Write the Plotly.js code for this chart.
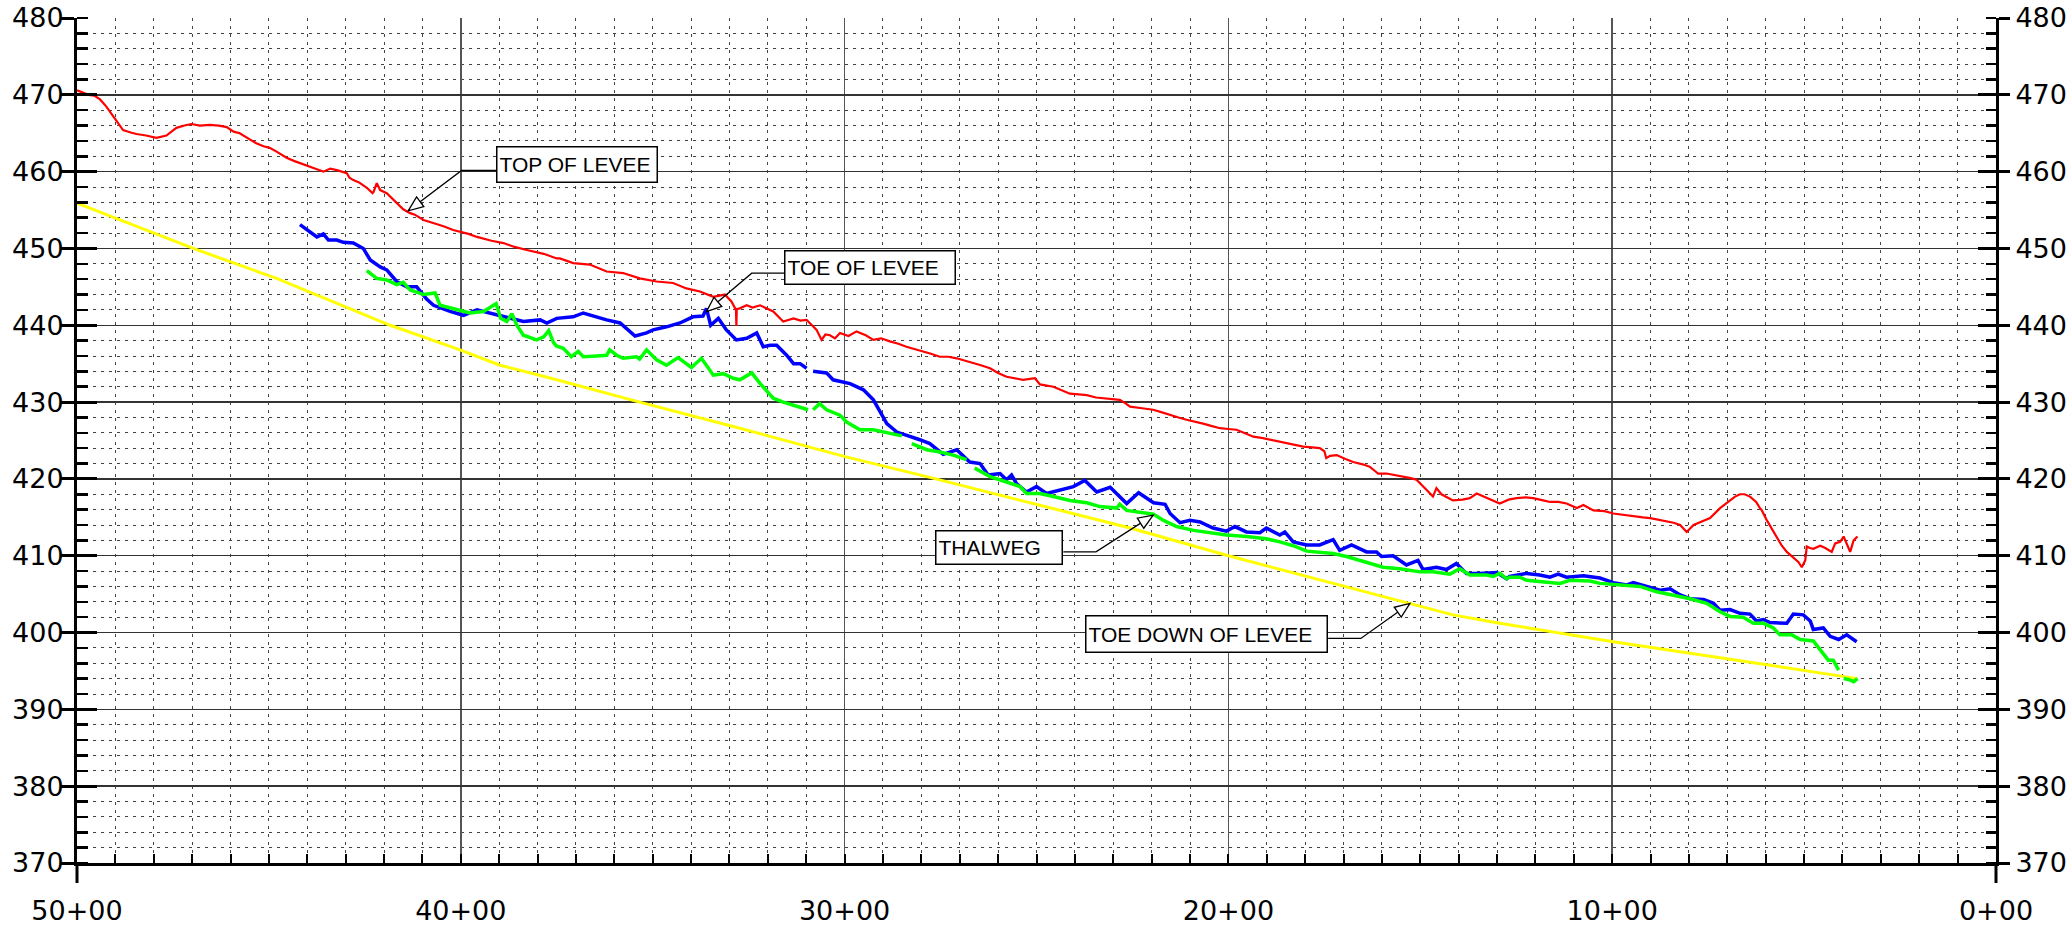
<!DOCTYPE html>
<html><head><meta charset="utf-8">
<script src="https://cdn.plot.ly/plotly-3.0.1.min.js"></script>
<style>html,body{margin:0;padding:0;background:#fff;overflow:hidden}#chart{width:2070px;height:934px}</style>
</head><body><div id="chart"></div>
<script>
// ---------- DATA ----------
const topStation = [50.0,49.85,49.7,49.55,49.4,49.24,48.97,48.8,48.6,48.45,48.2,47.93,47.67,47.41,47.2,47.02,46.8,46.54,46.3,46.1,45.92,45.76,45.5,45.33,45.14,44.98,44.8,44.62,44.54,44.35,44.2,44.1,43.9,43.75,43.58,43.4,43.23,43.1,42.97,42.9,42.8,42.65,42.45,42.3,42.27,42.19,42.1,41.93,41.8,41.67,41.5,41.32,41.2,40.97,40.7,40.45,40.2,40.02,39.8,39.58,39.2,38.89,38.6,38.28,37.84,37.5,37.42,37.07,36.64,36.2,35.77,35.34,34.9,34.47,34.12,33.77,33.42,33.12,32.95,32.83,32.82,32.81,32.73,32.55,32.4,32.2,32.0,31.86,31.6,31.33,31.15,30.99,30.85,30.73,30.6,30.5,30.38,30.25,30.12,29.9,29.69,29.45,29.25,29.05,28.82,28.6,28.39,28.15,27.95,27.75,27.52,27.3,27.08,26.85,26.65,26.45,26.21,26.0,25.78,25.55,25.35,25.04,24.91,24.56,24.35,24.13,23.9,23.69,23.45,23.26,23.05,22.83,22.7,22.56,22.25,21.96,21.75,21.52,21.3,21.09,20.9,20.66,20.45,20.22,20.0,19.79,19.55,19.35,19.1,18.92,18.7,18.49,18.25,18.05,17.82,17.62,17.5,17.45,17.35,17.18,16.95,16.75,16.5,16.32,16.15,16.1,15.88,15.65,15.45,15.25,15.1,14.95,14.84,14.67,14.58,14.45,14.32,14.15,13.9,13.71,13.53,13.3,13.1,12.93,12.7,12.49,12.25,12.06,11.8,11.62,11.4,11.19,10.92,10.75,10.49,10.2,9.97,9.7,9.45,9.2,9.01,8.8,8.58,8.4,8.23,8.06,7.88,7.65,7.45,7.19,6.93,6.8,6.67,6.55,6.41,6.25,6.15,6.1,5.97,5.85,5.71,5.58,5.45,5.28,5.15,5.06,4.97,4.93,4.85,4.76,4.58,4.45,4.28,4.19,4.06,3.97,3.88,3.8,3.71,3.61];
const topElev = [470.6,470.3,470.0,469.9,469.4,468.5,466.5,465.4,465.1,464.9,464.7,464.4,464.7,465.7,466.0,466.2,466.0,466.1,466.0,465.8,465.2,465.0,464.2,463.7,463.3,463.1,462.6,462.0,461.8,461.4,461.1,460.9,460.6,460.3,460.0,460.4,460.2,460.0,459.8,459.2,458.9,458.6,457.9,457.2,457.4,458.5,457.6,457.2,456.6,455.9,455.1,454.6,454.4,453.7,453.3,452.9,452.4,452.2,451.9,451.5,451.0,450.7,450.2,449.8,449.3,448.7,448.7,448.1,447.9,447.0,446.8,446.1,445.7,445.5,444.8,444.4,443.7,444.0,443.1,442.0,439.9,442.1,442.2,442.6,442.3,442.6,442.1,441.8,440.5,440.9,440.6,440.7,440.0,439.4,438.1,438.8,438.7,438.3,439.0,438.6,439.2,438.7,438.1,438.3,437.9,437.6,437.2,436.9,436.6,436.3,435.9,435.9,435.7,435.4,435.1,434.8,434.4,433.8,433.3,433.1,432.9,433.1,432.3,432.0,431.6,431.1,431.0,430.9,430.6,430.5,430.4,430.3,429.9,429.4,429.2,429.0,428.7,428.3,428.0,427.7,427.5,427.2,426.9,426.6,426.5,426.4,425.9,425.5,425.3,425.1,424.9,424.6,424.4,424.2,424.1,424.0,423.6,422.7,423.0,423.1,422.6,422.2,421.9,421.6,420.9,420.7,420.7,420.5,420.3,420.1,419.9,419.2,418.6,417.7,418.8,418.0,417.7,417.2,417.3,417.5,418.1,417.6,417.2,416.8,417.3,417.5,417.6,417.5,417.2,417.0,417.0,416.8,416.2,416.6,415.9,415.8,415.5,415.3,415.1,415.0,414.9,414.7,414.4,414.3,414.0,413.1,414.0,414.5,414.9,416.2,417.2,417.7,418.0,418.0,417.7,417.0,416.2,415.9,414.6,413.6,412.3,411.3,410.5,409.7,409.2,408.5,409.4,411.2,411.0,410.9,411.3,411.0,410.5,411.6,411.8,412.5,411.5,410.5,412.0,412.5];

const toeStation = [44.19,43.93,43.75,43.58,43.45,43.23,43.06,42.8,42.54,42.36,42.1,41.93,41.67,41.41,41.15,40.89,40.71,40.28,39.93,39.58,39.24,38.72,38.37,37.93,37.76,37.5,37.07,36.81,36.55,36.2,35.85,35.46,35.16,34.99,34.64,34.29,33.95,33.69,33.6,33.49,33.29,33.08,32.82,32.55,32.29,32.12,31.94,31.77,31.51,31.33,31.16,30.99,null,30.82,30.47,30.3,29.86,29.51,29.25,29.08,28.9,28.64,28.39,28.04,27.78,27.43,27.08,26.74,26.47,26.26,25.95,25.78,25.65,25.52,25.26,25.0,24.74,24.3,24.04,23.74,23.43,23.08,22.65,22.34,21.95,21.65,21.52,21.26,21.0,20.74,20.4,20.05,19.83,19.53,19.18,19.01,18.66,18.53,18.31,17.96,17.62,17.27,17.1,16.79,16.4,16.14,16.01,15.71,15.36,15.06,14.93,14.58,14.32,14.06,13.8,13.45,13.01,12.75,12.67,12.23,11.89,11.62,11.41,11.19,10.75,10.32,10.15,9.97,9.62,9.45,9.1,8.75,8.49,8.23,7.97,7.62,7.36,7.19,6.93,6.67,6.41,6.24,6.06,5.89,5.45,5.28,5.02,4.84,4.76,4.5,4.32,4.1,3.89,3.63];
const toeElev = [453.1,452.2,451.5,451.9,451.1,451.1,450.8,450.7,450.0,448.5,447.6,447.2,445.7,445.0,445.0,443.4,442.6,441.8,441.3,442.0,441.6,440.9,440.5,440.7,440.3,440.9,441.1,441.6,441.2,440.7,440.3,438.6,439.0,439.4,439.8,440.3,441.1,441.2,442.2,440.0,440.9,439.4,438.1,438.3,439.0,437.2,437.4,437.4,436.1,435.0,435.0,434.4,null,434.0,433.8,432.9,432.4,431.6,430.3,428.8,427.2,426.1,425.7,425.1,424.6,423.2,423.8,422.2,422.0,420.5,420.7,419.9,420.5,419.4,418.3,419.0,418.1,418.6,419.0,419.8,418.3,418.9,416.8,418.2,416.9,416.7,415.5,414.3,414.6,414.4,413.6,413.2,413.8,413.1,413.0,413.6,412.7,413.1,411.8,411.4,411.4,412.1,410.7,411.4,410.5,410.5,409.9,410.0,408.8,409.4,408.2,408.5,408.2,409.0,407.7,407.7,407.8,407.0,407.3,407.7,407.5,407.2,407.6,407.2,407.4,407.1,406.8,406.5,406.2,406.5,406.0,405.5,405.7,404.9,404.4,404.3,403.8,402.9,403.0,402.5,402.4,401.5,401.7,401.3,401.2,402.4,402.3,401.5,400.4,400.6,399.5,399.1,399.7,398.8];

const thalwegStation = [42.45,42.19,41.93,41.67,41.5,41.32,40.97,40.67,40.54,40.19,39.76,39.41,39.08,38.96,38.8,38.67,38.54,38.37,38.02,37.84,37.71,37.58,37.51,37.33,37.12,36.94,36.81,36.46,36.2,36.12,35.94,35.77,35.42,35.34,35.16,34.9,34.64,34.34,33.99,33.73,33.42,33.16,32.9,32.73,32.42,32.2,31.86,31.6,31.33,30.95,null,30.82,30.65,30.47,30.12,29.95,29.6,29.25,28.82,28.51,null,28.25,27.86,27.52,27.17,26.82,null,26.61,26.21,25.78,25.43,25.26,24.91,24.56,24.13,23.69,23.35,22.91,22.83,22.65,22.3,21.95,21.69,21.35,20.91,20.48,20.05,19.53,19.01,18.66,18.31,17.96,17.62,17.27,16.92,16.58,16.32,15.97,15.54,15.01,14.67,14.23,13.97,13.71,13.27,13.1,12.93,12.75,12.67,12.41,12.23,11.89,11.36,11.1,10.58,10.32,9.8,9.28,8.84,8.41,7.97,7.54,7.19,6.93,6.59,6.32,6.06,5.8,5.63,5.32,5.1,4.76,4.54,4.37,4.24,4.1,null,3.97,3.84,3.71,3.61];
const thalwegElev = [447.1,446.1,445.9,445.3,445.6,444.6,444.0,444.2,442.6,442.2,441.6,441.8,442.8,440.9,440.5,441.5,440.0,438.7,438.1,438.5,439.3,437.7,437.3,437.0,435.9,436.6,435.9,436.0,436.1,436.8,436.1,435.7,435.9,435.6,436.8,435.5,434.8,435.8,434.5,435.7,433.5,433.7,433.1,432.9,433.8,432.4,430.5,430.0,429.6,429.0,null,429.0,429.8,429.0,428.3,427.4,426.4,426.4,425.9,425.6,null,424.6,423.8,423.5,423.1,422.5,null,421.4,420.3,419.6,419.0,418.1,418.1,417.7,417.2,416.9,416.4,416.2,416.7,415.9,415.6,415.4,414.6,413.8,413.3,413.0,412.7,412.5,412.2,411.8,411.3,410.6,410.5,410.3,409.9,409.4,408.9,408.5,408.3,407.9,407.9,407.6,408.3,407.5,407.5,407.3,407.7,407.0,407.2,407.2,406.8,406.6,406.4,406.8,406.7,406.4,406.2,406.0,405.3,404.9,404.4,403.8,402.7,402.1,402.0,401.2,401.2,400.6,399.7,399.7,399.1,398.9,397.5,396.4,396.4,395.1,null,394.0,393.9,393.6,394.0];

const toeDownStation = [50.0,46.97,44.8,41.84,40.02,38.98,37.5,35.34,32.73,29.99,27.7,25.43,22.56,20.0,15.27,14.15,12.93,9.97,5.97,3.61];
const toeDownElev = [455.9,450.0,446.1,440.0,436.8,434.8,432.9,430.0,426.6,422.9,420.1,417.2,413.6,410.0,403.8,402.3,401.2,398.8,395.8,394.0];

const xTickVals = [50,40,30,20,10,0];
const xTickText = ['50+00','40+00','30+00','20+00','10+00','0+00'];
const yTickVals = [370,380,390,400,410,420,430,440,450,460,470,480];
const yTickText = ['370','380','390','400','410','420','430','440','450','460','470','480'];

const calloutText = ['TOP OF LEVEE','TOE OF LEVEE','THALWEG','TOE DOWN OF LEVEE'];

// ---------- LAYOUT DECORATION ----------
const W = 2070, H = 934;
const M = {l:77, r:74, t:18, b:71};
const plotW = W - M.l - M.r, plotH = H - M.t - M.b;
const xRange = [50, 0], yRange = [370, 480];
const pxPerS = plotW / 50, pxPerV = plotH / 110;

// callout geometry: box centre, box size (px), leader: box edge -> elbow -> tip
const callouts = [
  {c:[36.96,460.97], w:162, h:37, p:[[39.07,460.15],[39.98,460.15],[41.37,454.9]]},
  {c:[29.33,447.5],  w:172, h:35, p:[[31.57,446.78],[32.42,446.78],[33.6,441.78]]},
  {c:[25.965,411.09], w:128, h:35, p:[[24.30,410.51],[23.45,410.51],[21.96,415.29]]},
  {c:[20.56,399.77],  w:243, h:38, p:[[17.40,399.23],[16.55,399.23],[15.27,403.79]]}
];

const shapes = [];
const annotations = [];
callouts.forEach((co, i) => {
  const [a, b, t] = co.p;
  shapes.push({type:'path', xref:'x', yref:'y', layer:'above',
    path:`M ${a[0]},${a[1]} L ${b[0]},${b[1]} L ${t[0]},${t[1]}`,
    line:{color:'#000', width:1.3}});
  // open triangle arrow head at tip, pointing from elbow to tip
  let dx = -(b[0]-t[0])*pxPerS, dy = (b[1]-t[1])*pxPerV; // pixel, y up
  const len = Math.hypot(dx, dy); dx/=len; dy/=len;
  const L = 15, Wd = 6;
  const nx = -dy, ny = dx;
  const p1 = [L*dx + Wd*nx, L*dy + Wd*ny], p2 = [L*dx - Wd*nx, L*dy - Wd*ny];
  const toD = p => [t[0] - p[0]/pxPerS, t[1] + p[1]/pxPerV];
  const q1 = toD(p1), q2 = toD(p2);
  shapes.push({type:'path', xref:'x', yref:'y', layer:'above',
    path:`M ${t[0]},${t[1]} L ${q1[0]},${q1[1]} L ${q2[0]},${q2[1]} Z`,
    fillcolor:'#fff', line:{color:'#000', width:1.3}});
  annotations.push({x:co.c[0], y:co.c[1], xref:'x', yref:'y', text:calloutText[i],
    showarrow:false, xanchor:'center', yanchor:'middle', align:'left', valign:'middle',
    width:co.w-7, height:co.h-7, bgcolor:'#fff', bordercolor:'#000', borderwidth:1.5, borderpad:2,
    font:{family:'Liberation Sans, Arial, sans-serif', size:21, color:'#000'}});
});
// axis lines extend below the frame
shapes.push({type:'line', xref:'paper', yref:'paper', x0:0, x1:0, y0:0, y1:-20/plotH, line:{color:'#000', width:3}});
shapes.push({type:'line', xref:'paper', yref:'paper', x0:1, x1:1, y0:0, y1:-20/plotH, line:{color:'#000', width:3}});

const tickFont = {family:'DejaVu Sans, sans-serif', size:27, color:'#000'};
const minorGridY = {tickmode:'linear', tick0:0, dtick:2, showgrid:true, griddash:'3px,5px', gridcolor:'#444', gridwidth:1};

const traces = [
  {x:toeDownStation, y:toeDownElev, mode:'lines', line:{color:'#ffff00', width:3}, name:'TOE DOWN OF LEVEE'},
  {x:topStation, y:topElev, mode:'lines', line:{color:'#ff0000', width:2.2}, name:'TOP OF LEVEE'},
  {x:toeStation, y:toeElev, mode:'lines', line:{color:'#0000ff', width:3.5}, name:'TOE OF LEVEE'},
  {x:thalwegStation, y:thalwegElev, mode:'lines', line:{color:'#00ff00', width:3.5}, name:'THALWEG'},
  {x:[25], y:[425], yaxis:'y2', mode:'markers', marker:{opacity:0}, hoverinfo:'skip'},
  {x:[25], y:[425], yaxis:'y3', mode:'markers', marker:{opacity:0}, hoverinfo:'skip'},
  {x:[25], y:[425], yaxis:'y4', mode:'markers', marker:{opacity:0}, hoverinfo:'skip'}
];

const layout = {
  width:W, height:H, margin:M, showlegend:false,
  paper_bgcolor:'#fff', plot_bgcolor:'#fff',
  xaxis:{range:xRange, tickmode:'array', tickvals:xTickVals, ticktext:xTickText,
    showline:true, linecolor:'#000', linewidth:3, zeroline:false,
    ticks:'inside', ticklen:9, tickwidth:2, tickcolor:'#000',
    showgrid:true, gridcolor:'#555', gridwidth:1.5,
    tickfont:{family:'DejaVu Sans, sans-serif', size:27, color:'#000'}, ticklabelstandoff:22,
    minor:{tickmode:'linear', tick0:0, dtick:1, ticks:'inside', ticklen:9, tickwidth:2, tickcolor:'#000',
      showgrid:true, griddash:'3px,5px', gridcolor:'#444', gridwidth:1}},
  yaxis:{range:yRange, tickmode:'array', tickvals:yTickVals, ticktext:yTickText,
    showline:true, linecolor:'#000', linewidth:3, zeroline:false,
    ticks:'outside', ticklen:14, tickwidth:3, tickcolor:'#000',
    showgrid:true, gridcolor:'#333', gridwidth:1.5, tickfont:tickFont, ticklabelstandoff:-9,
    minor:Object.assign({ticks:'inside', ticklen:11, tickwidth:2.5, tickcolor:'#000'}, minorGridY)},
  yaxis2:{range:yRange, overlaying:'y', side:'right', tickmode:'array', tickvals:yTickVals, ticktext:yTickText,
    showline:true, linecolor:'#000', linewidth:3, zeroline:false, showgrid:false,
    ticks:'outside', ticklen:11, tickwidth:3, tickcolor:'#000', tickfont:tickFont, ticklabelstandoff:0,
    minor:{tickmode:'linear', tick0:0, dtick:2, ticks:'inside', ticklen:10, tickwidth:2.5, tickcolor:'#000', showgrid:false}},
  yaxis3:{range:yRange, overlaying:'y', side:'left', tickmode:'array', tickvals:yTickVals,
    showline:false, zeroline:false, showgrid:false, showticklabels:false,
    ticks:'inside', ticklen:20, tickwidth:3, tickcolor:'#000'},
  yaxis4:{range:yRange, overlaying:'y', side:'right', tickmode:'array', tickvals:yTickVals,
    showline:false, zeroline:false, showgrid:false, showticklabels:false,
    ticks:'inside', ticklen:18, tickwidth:3, tickcolor:'#000'},
  shapes:shapes, annotations:annotations
};

Plotly.newPlot('chart', traces, layout, {staticPlot:true, displayModeBar:false});
</script></body></html>
